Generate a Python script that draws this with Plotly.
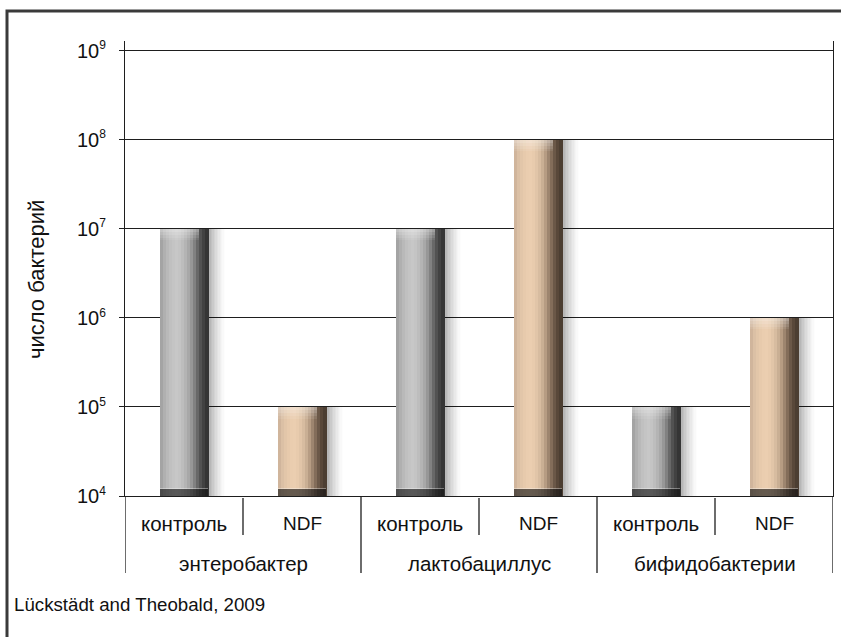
import plotly.graph_objects as go

# ---------------- data ----------------
groups = ['энтеробактер', 'лактобациллус', 'бифидобактерии']
subgroups = ['контроль', 'NDF']
control_counts = [1e7, 1e7, 1e5]
ndf_counts = [1e5, 1e8, 1e6]
y_tick_vals = [1e4, 1e5, 1e6, 1e7, 1e8, 1e9]
y_tick_exps = ['4', '5', '6', '7', '8', '9']
y_title = 'число бактерий'
source_text = 'Lückstädt and Theobald, 2009'

# ---------------- style ----------------
FONT = 'Liberation Sans'
TXT = '#111111'
LINE = '#1e1e1e'
BAR_W = 0.41
gray_profile = ['#a4a4a4', '#b0b0b0', '#b9b9b9', '#c0c0c0', '#c4c4c4', '#c7c7c7',
                '#c4c4c4', '#bdbdbd', '#b4b4b4', '#a8a8a8', '#979797', '#818181',
                '#686868', '#525252', '#424242', '#353535']
tan_profile = ['#d0b59c', '#dbc0a5', '#e2c6a9', '#e7caac', '#eacdaf', '#ebceb0',
               '#e8cbad', '#e1c5a8', '#d7bca0', '#c9af94', '#b69c83', '#9d856f',
               '#836d5a', '#6b5848', '#59483a', '#4c3e32']
profiles = [gray_profile, tan_profile]

# flatten data
vals, kinds, xpos = [], [], []
for g in range(len(groups)):
    for k, series in enumerate([control_counts, ndf_counts]):
        vals.append(series[g])
        kinds.append(k)
        xpos.append(g * len(subgroups) + k)

fig = go.Figure()

# right drop shadow
NS = 12
sw = 0.15 / NS
for j in range(NS):
    a = 0.32 * (1 - j / NS) ** 1.5
    fig.add_bar(x=xpos, y=vals, width=sw, offset=BAR_W / 2 - 0.004 + j * sw,
                marker=dict(color=f'rgba(0,0,0,{a:.3f})', line_width=0),
                hoverinfo='skip', showlegend=False)

# bar bodies as vertical slices (horizontal gradient)
N = len(gray_profile)
slw = BAR_W / N
for i in range(N):
    cols = [profiles[k][i] for k in kinds]
    fig.add_bar(x=xpos, y=vals, width=slw * 1.15, offset=-BAR_W / 2 + i * slw,
                marker=dict(color=cols, line_width=0),
                hoverinfo='skip', showlegend=False)

# top highlight (soft, several bands)
TOP_STEPS = [(0.13, 0.08), (0.10, 0.10), (0.07, 0.12), (0.035, 0.14)]
for depth, a in TOP_STEPS:
    tb = [v * 10 ** (-depth) for v in vals]
    fig.add_bar(x=xpos, y=[v - b for v, b in zip(vals, tb)], base=tb,
                width=BAR_W * 0.80, offset=-BAR_W / 2,
                marker=dict(color=f'rgba(255,255,255,{a})', line_width=0),
                hoverinfo='skip', showlegend=False)

# bottom dark band + thin light line
BOTD = 0.075
fig.add_bar(x=xpos, y=[1e4 * (10 ** BOTD - 1)] * len(vals), base=[1e4] * len(vals),
            width=BAR_W, offset=-BAR_W / 2,
            marker=dict(color='rgba(20,20,20,0.62)', line_width=0),
            hoverinfo='skip', showlegend=False)
lb = 1e4 * 10 ** BOTD
fig.add_bar(x=xpos, y=[lb * (10 ** 0.012 - 1)] * len(vals), base=[lb] * len(vals),
            width=BAR_W, offset=-BAR_W / 2,
            marker=dict(color='rgba(255,255,255,0.35)', line_width=0),
            hoverinfo='skip', showlegend=False)

# ---------------- axes ----------------
n_cat = len(vals)
fig.update_layout(
    width=841, height=637,
    margin=dict(l=125, r=8, t=41, b=141),
    paper_bgcolor='white', plot_bgcolor='white',
    barmode='overlay', bargap=0,
    font=dict(family=FONT, size=19, color=TXT),
    showlegend=False,
)
fig.update_xaxes(range=[-0.5, n_cat - 0.5], showgrid=False, zeroline=False,
                 showline=True, linecolor=LINE, linewidth=1.3,
                 showticklabels=False, ticks='', fixedrange=True)
tick_text = [f"10<sup><span style='font-size:12px'>{e}</span></sup>" for e in y_tick_exps]
fig.update_yaxes(type='log', range=[4, 9.11], tickmode='array',
                 tickvals=y_tick_vals, ticktext=tick_text,
                 showgrid=True, gridcolor=LINE, gridwidth=1.3,
                 showline=True, mirror=True, linecolor=LINE, linewidth=1.3,
                 ticks='outside', ticklen=5, tickcolor=LINE, tickwidth=1.3,
                 ticklabelstandoff=9,
                 tickfont=dict(family=FONT, size=20, color=TXT),
                 zeroline=False, fixedrange=True)

# ---------------- x-axis labels & dividers ----------------
PH = 455.0
shapes = []
for g in range(len(groups) + 1):
    xb = g * len(subgroups) - 0.5
    shapes.append(dict(type='line', xref='x', yref='paper', x0=xb, x1=xb,
                       y0=0, y1=-77 / PH, line=dict(color=LINE, width=1.3)))
for g in range(len(groups)):
    for k in range(1, len(subgroups)):
        xb = g * len(subgroups) + k - 0.5
        shapes.append(dict(type='line', xref='x', yref='paper', x0=xb, x1=xb,
                           y0=-2 / PH, y1=-39 / PH, line=dict(color=LINE, width=1.3)))
# outer frame
shapes.append(dict(type='rect', xref='paper', yref='paper',
                   x0=(7 - 125) / 708.0, x1=1.03, y0=-0.33, y1=(496 - 11) / PH,
                   line=dict(color='#3a3a3a', width=3), fillcolor='rgba(0,0,0,0)'))

ann = []
for i, x in enumerate(xpos):
    lab = subgroups[kinds[i]]
    ann.append(dict(x=x, y=0, xref='x', yref='paper', text=lab,
                    showarrow=False, yanchor='middle', yshift=-27,
                    font=dict(size=19 if lab == 'NDF' else 20.5, color=TXT, family=FONT)))
for g, name in enumerate(groups):
    ann.append(dict(x=g * len(subgroups) + (len(subgroups) - 1) / 2, y=0,
                    xref='x', yref='paper', text=name, showarrow=False,
                    yanchor='middle', yshift=-67,
                    font=dict(size=20.5, color=TXT, family=FONT)))
ann.append(dict(x=(36 - 125) / 708.0, y=(496 - 280) / PH, xref='paper', yref='paper',
                text=y_title, textangle=-90, showarrow=False,
                xanchor='center', yanchor='middle',
                font=dict(size=22, color=TXT, family=FONT)))
ann.append(dict(x=(12 - 125) / 708.0, y=0, xref='paper', yref='paper',
                text=source_text, showarrow=False, xanchor='left',
                yanchor='middle', yshift=-108,
                font=dict(size=18.7, color=TXT, family=FONT)))

fig.update_layout(shapes=shapes, annotations=ann)
fig.write_html('out.html', config={'displayModeBar': False},
               post_script="document.body.style.margin='0';document.body.style.overflow='hidden';")
